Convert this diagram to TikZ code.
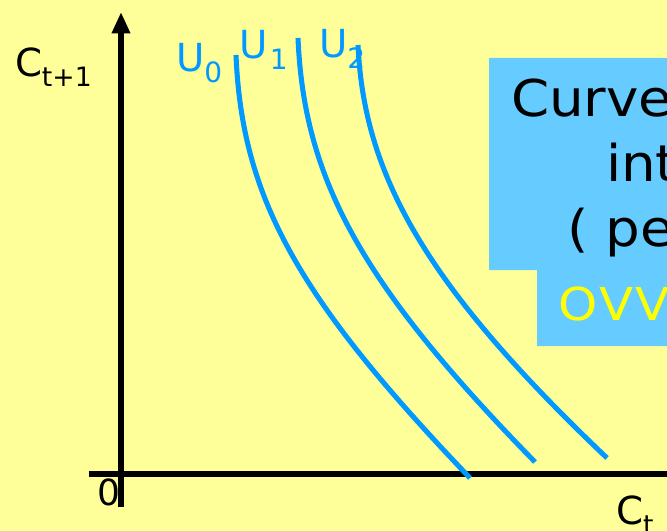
\documentclass[tikz,border=0pt]{standalone}
\usepackage{fontspec}
\setmainfont{DejaVu Sans}
\newfontfamily\boxfont[FakeStretch=1.08]{DejaVu Sans}
\newfontfamily\ovvfont[FakeStretch=1.1,LetterSpace=6]{DejaVu Sans}
\usetikzlibrary{arrows.meta}
\definecolor{bgyellow}{HTML}{FFFF99}
\definecolor{curveblue}{HTML}{0099FF}
\definecolor{boxblue}{HTML}{66CCFF}
\definecolor{txtyellow}{HTML}{FFFF00}
\begin{document}
\begin{tikzpicture}[x=0.75pt,y=-0.75pt,
  lbl/.style={anchor=base west,inner sep=0pt,outer sep=0pt},
  axis/.style={line width=4pt,black},
  ucurve/.style={line width=3.8pt,curveblue},
  boxtxt/.style={lbl,font=\boxfont\fontsize{38}{40}\selectfont}]
\useasboundingbox (0,0) rectangle (667,531);
\fill[bgyellow] (0,0) rectangle (667,531);
\clip (0,0) rectangle (667,531);
% box
\fill[boxblue] (489,58) -- (700,58) -- (700,346) -- (537,346) -- (537,270) -- (489,270) -- cycle;
\node[boxtxt] (t1) at (511,117) {Curve};
\node[boxtxt] (t2) at (606,181) {int};
\node[boxtxt] (t3) at (567,246) {( pe};
\node[lbl,text=txtyellow,font=\ovvfont\fontsize{34}{36}\selectfont] (t4) at (558,320) {OVV};
% origin label
\node[lbl,font=\fontsize{27}{28}\selectfont] (o) at (97,505) {0};
% axes
\coordinate (ybot) at (121,507);
\coordinate (ytop) at (121,12);
\coordinate (xl) at (89,474);
\coordinate (xr) at (672,474);
\draw[axis] (xl) -- (xr);
\draw[axis,-{Triangle[length=16pt,width=13pt]}] (ybot) -- (ytop);
% axis labels
\node[lbl,font=\fontsize{29}{30}\selectfont] (cy) at (15,77) {C\raisebox{-10\dimexpr0.75pt\relax}{\fontsize{20}{20}\selectfont t+1}};
\node[lbl,font=\fontsize{29}{30}\selectfont] (cx) at (616,524) {C\raisebox{-10\dimexpr0.75pt\relax}{\fontsize{20}{20}\selectfont t}};
% curves
\coordinate (a0) at (236,55);  \coordinate (b0) at (470,478);
\coordinate (a1) at (298,38);  \coordinate (b1) at (535,462);
\coordinate (a2) at (358,45);  \coordinate (b2) at (607,458);
\draw[ucurve] (a0) .. controls (242,200) and (300,300) .. (b0);
\draw[ucurve] (a1) .. controls (304,180) and (362,285) .. (b1);
\draw[ucurve] (a2) .. controls (364,175) and (425,285) .. (b2);
% curve labels
\node[lbl,text=curveblue,font=\fontsize{29}{30}\selectfont] (u0) at (176,72) {U\raisebox{-11\dimexpr0.75pt\relax}{\fontsize{21}{21}\selectfont 0}};
\node[lbl,text=curveblue,font=\fontsize{29}{30}\selectfont] (u1) at (239,59) {U\raisebox{-11\dimexpr0.75pt\relax}{\fontsize{21}{21}\selectfont\hspace{2pt}1}};
\node[lbl,text=curveblue,font=\fontsize{29}{30}\selectfont] (u2) at (319,58) {U\raisebox{-11\dimexpr0.75pt\relax}{\fontsize{21}{21}\selectfont 2}};
\end{tikzpicture}
\end{document}
